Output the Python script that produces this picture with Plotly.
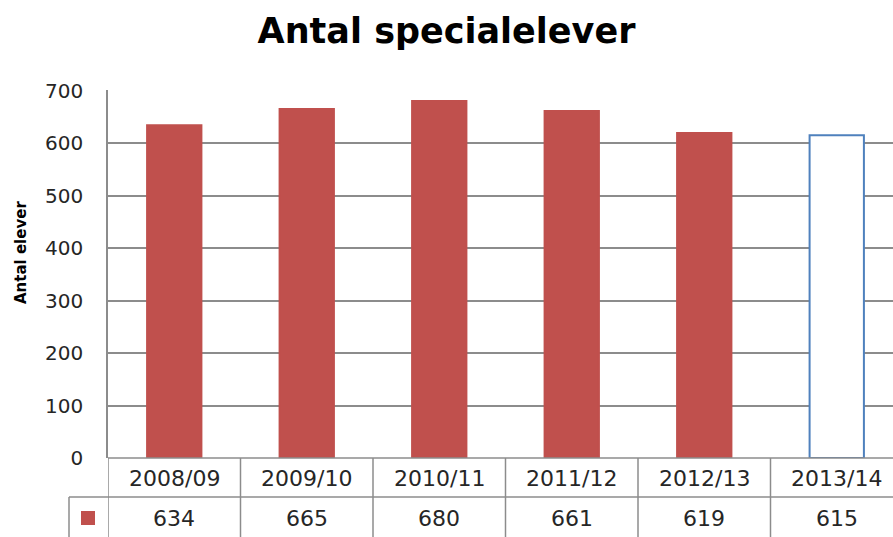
import plotly.graph_objects as go

categories = ["2008/09", "2009/10", "2010/11", "2011/12", "2012/13", "2013/14"]
values = [634, 665, 680, 661, 619, 615]
y_ticks = [0, 100, 200, 300, 400, 500, 600, 700]

RED = "#C0504D"
BLUE = "#4F81BD"
GRID = "#8C8C8C"
FONT = "DejaVu Sans"
TXT = "#262626"

fill_colors = [RED] * 5 + ["white"]
line_colors = [RED] * 5 + [BLUE]

x_idx = list(range(len(categories)))

fig = go.Figure()
fig.add_trace(go.Bar(
    x=x_idx, y=values, width=0.41,
    marker=dict(color=fill_colors, line=dict(color=line_colors, width=2)),
    showlegend=False, hoverinfo="x+y",
))

W, H = 893, 537
L, R_, T, B = 108, 0, 90, 79
plot_h = H - T - B
plot_w = W - L - R_
cat_px = 132.5
x_max = -0.5 + plot_w / cat_px

def py(px_below):
    return -px_below / plot_h

def py_abs(px_y):
    return (H - B - px_y) / plot_h

def px_x(px):
    return (px - L) / plot_w

shapes = []
row1_bottom = py(39)
bottom = py(120)
# table top line (category axis)
shapes.append(dict(type="line", xref="paper", yref="paper", x0=0, x1=1,
                   y0=0, y1=0, line=dict(color=GRID, width=1.5)))
# vertical lines of table
for i in range(len(categories) + 1):
    xv = i - 0.5
    shapes.append(dict(type="line", xref="x", yref="paper", x0=xv, x1=xv,
                       y0=0, y1=bottom, line=dict(color=GRID, width=1.5)))
# horizontal line between rows (extends into key column)
shapes.append(dict(type="line", xref="paper", yref="paper", x0=px_x(69), x1=1,
                   y0=row1_bottom, y1=row1_bottom, line=dict(color=GRID, width=1.5)))
# key column left edge
shapes.append(dict(type="line", xref="paper", yref="paper", x0=px_x(69), x1=px_x(69),
                   y0=row1_bottom, y1=bottom, line=dict(color=GRID, width=1.5)))
# legend key
shapes.append(dict(type="rect", xref="paper", yref="paper", x0=px_x(81), x1=px_x(95),
                   y0=py(53), y1=py(67), fillcolor=RED, line=dict(width=0)))

annotations = []
for i, c in enumerate(categories):
    annotations.append(dict(x=i, y=py(20), xref="x", yref="paper", text=c,
                            xanchor="center", yanchor="middle",
                            showarrow=False, font=dict(family=FONT, size=22, color=TXT)))
    annotations.append(dict(x=i, y=py(60), xref="x", yref="paper", text=str(values[i]),
                            xanchor="center", yanchor="middle",
                            showarrow=False, font=dict(family=FONT, size=22, color=TXT)))
# y axis title
annotations.append(dict(x=px_x(21), y=py_abs(253), xref="paper", yref="paper",
                        xanchor="center", yanchor="middle",
                        text="<b>Antal elever</b>", textangle=-90, showarrow=False,
                        font=dict(family=FONT, size=15, color="black")))

fig.update_layout(
    width=W, height=H,
    margin=dict(l=L, r=R_, t=T, b=B, autoexpand=False),
    paper_bgcolor="white", plot_bgcolor="white",
    title=dict(text="<b>Antal specialelever</b>", x=0.5, xanchor="center",
               xref="container",
               y=1 - 31 / H, yanchor="middle", automargin=False,
               font=dict(family=FONT, size=35, color="black")),
    xaxis=dict(range=[-0.5, x_max], showticklabels=False, showgrid=False,
               zeroline=False, showline=False, ticks="", automargin=False),
    yaxis=dict(range=[0, 701], tickvals=y_ticks, showgrid=True, gridcolor=GRID,
               gridwidth=1.5, zeroline=False, showline=True, linecolor=GRID, linewidth=1.5,
               ticks="", ticklabelstandoff=19, automargin=False,
               tickfont=dict(family=FONT, size=20, color=TXT)),
    shapes=shapes, annotations=annotations,
)

fig.write_html("out.html", config={"displayModeBar": False},
               post_script="document.body.style.margin='0';")
